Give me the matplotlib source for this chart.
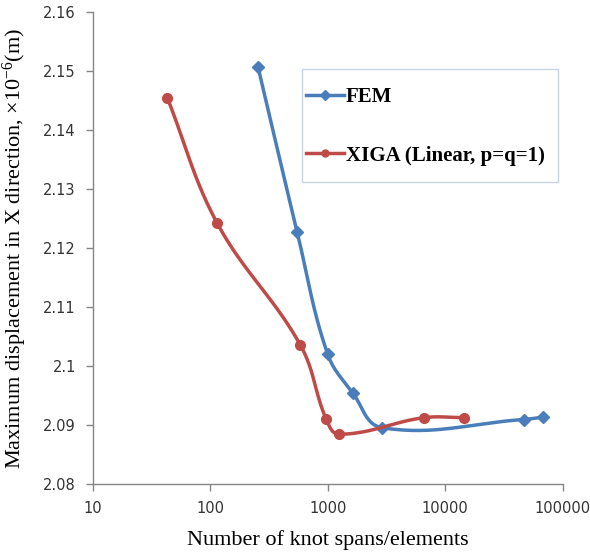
"""Convergence of maximum X displacement: FEM vs XIGA."""
import numpy as np
import matplotlib
matplotlib.use("Agg")
import matplotlib.pyplot as plt
from matplotlib.patches import Rectangle
from matplotlib.ticker import FixedLocator, FixedFormatter, NullLocator

plt.rcParams["mathtext.fontset"] = "custom"
plt.rcParams["mathtext.rm"] = "Liberation Serif"
plt.rcParams["mathtext.it"] = "Liberation Serif:italic"

fem_n = [256, 550, 1000, 1638, 2925, 46400, 67300]
fem_u = [2.1507, 2.1228, 2.1021, 2.0955, 2.0896, 2.0910, 2.0914]

xiga_n = [43.3, 114.7, 587, 971, 1260, 6540, 14500]
xiga_u = [2.1455, 2.1243, 2.1036, 2.0911, 2.0885, 2.0913, 2.0913]

y_ticks = [2.08, 2.09, 2.1, 2.11, 2.12, 2.13, 2.14, 2.15, 2.16]
y_labels = ["2.08", "2.09", "2.1", "2.11", "2.12", "2.13", "2.14", "2.15", "2.16"]
x_ticks = [10, 100, 1000, 10000, 100000]
x_labels = ["10", "100", "1000", "10000", "100000"]

XLIM = (10, 100000)
YLIM = (2.08, 2.16)


def smooth(xs, ys, n=40):
    """Smoothed line through the points (Bezier, chord-scaled tangents) in log-x space."""
    lx0, lx1 = np.log10(XLIM[0]), np.log10(XLIM[1])
    px = (np.log10(xs) - lx0) / (lx1 - lx0)
    py = (np.asarray(ys) - YLIM[0]) / (YLIM[1] - YLIM[0])
    pts = np.column_stack([px, py])
    m = len(pts)
    tang = np.zeros_like(pts)
    for i in range(m):
        a = pts[max(i - 1, 0)]
        b = pts[min(i + 1, m - 1)]
        d = b - a
        tang[i] = d / (np.hypot(*d) + 1e-12)
    out = []
    for i in range(m - 1):
        p1, p2 = pts[i], pts[i + 1]
        L = np.hypot(*(p2 - p1))
        c1 = p1 + tang[i] * L * 0.38
        c2 = p2 - tang[i + 1] * L * 0.38
        t = np.linspace(0, 1, n)[:, None]
        seg = ((1 - t) ** 3) * p1 + 3 * ((1 - t) ** 2) * t * c1 + 3 * (1 - t) * t ** 2 * c2 + t ** 3 * p2
        out.append(seg if i == 0 else seg[1:])
    curve = np.vstack(out)
    cx = 10 ** (lx0 + curve[:, 0] * (lx1 - lx0))
    cy = YLIM[0] + curve[:, 1] * (YLIM[1] - YLIM[0])
    return cx, cy


fig = plt.figure(figsize=(5.9, 5.57), dpi=100)
ax = fig.add_axes([0.1568, 0.1303, 0.797, 0.8476])
ax.set_xscale("log")

blue = "#4a7ebb"
red = "#be4b48"

sx, sy = smooth(fem_n, fem_u)
ax.plot(sx, sy, color=blue, lw=2.5, solid_capstyle="round")
ax.plot(fem_n, fem_u, ls="none", marker="D", ms=6, color=blue)
ax.plot([], [], color=blue, lw=2.5, marker="D", ms=5, label="FEM")

sx, sy = smooth(xiga_n, xiga_u)
ax.plot(sx, sy, color=red, lw=2.5, solid_capstyle="round")
ax.plot(xiga_n, xiga_u, ls="none", marker="o", ms=7, color=red)
ax.plot([], [], color=red, lw=2.5, marker="o", ms=5, label="XIGA (Linear, p=q=1)")

ax.set_xlim(*XLIM)
ax.set_ylim(*YLIM)
ax.xaxis.set_major_locator(FixedLocator(x_ticks))
ax.xaxis.set_major_formatter(FixedFormatter(x_labels))
ax.xaxis.set_minor_locator(NullLocator())
ax.yaxis.set_major_locator(FixedLocator(y_ticks))
ax.yaxis.set_major_formatter(FixedFormatter(y_labels))

for side in ("top", "right"):
    ax.spines[side].set_visible(False)
for side in ("left", "bottom"):
    ax.spines[side].set_color("#868686")
    ax.spines[side].set_linewidth(1.0)
ax.tick_params(direction="out", length=5, width=1.0, color="#868686",
               labelsize=10.5, labelcolor="#333333", pad=7)
for lab in ax.get_xticklabels() + ax.get_yticklabels():
    lab.set_family("DejaVu Sans")

ax.set_xlabel("Number of knot spans/elements", family="Liberation Serif",
              fontsize=16, labelpad=10)
ax.set_ylabel(r"Maximum displacement in X direction, $\times$10$^{-6}$(m)",
              family="Liberation Serif", fontsize=16, labelpad=10)

# legend box drawn separately so the padding can be set freely
box = Rectangle((302 / 590, 1 - 182 / 557), 256 / 590, 113 / 557,
                transform=fig.transFigure, facecolor="white",
                edgecolor="#c9d3e6", lw=1.0, zorder=4, clip_on=False)
ax.add_patch(box)
leg = ax.legend(loc="upper left", bbox_to_anchor=(306 / 590, 1 - 87 / 557),
                bbox_transform=fig.transFigure,
                prop={"family": "Liberation Serif", "weight": "bold", "size": 15},
                labelspacing=1.85, handlelength=1.8, handletextpad=0.1,
                borderpad=0, borderaxespad=0, frameon=False)
leg.set_zorder(6)

fig.savefig("out.png", dpi=100)
